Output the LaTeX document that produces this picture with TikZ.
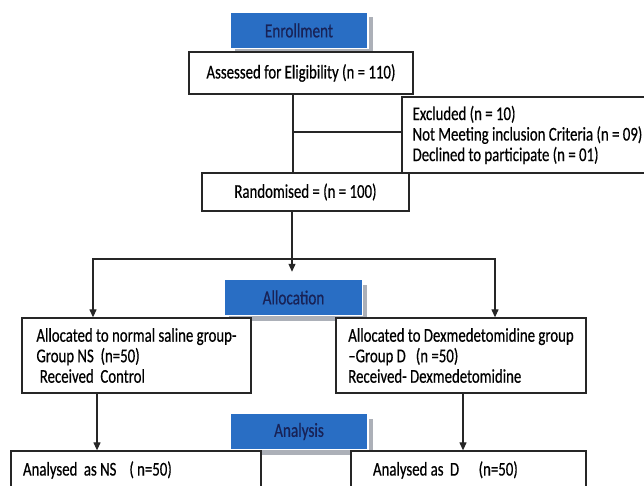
\documentclass[tikz,border=0pt]{standalone}
\usepackage{fontspec}
\setmainfont{Carlito}[FakeStretch=0.76, FakeBold=0.5]
\usetikzlibrary{arrows.meta, positioning, shadows}
\definecolor{headblue}{RGB}{41,110,196}
\definecolor{headtext}{RGB}{24,34,86}
\definecolor{shadowgray}{RGB}{172,176,184}
\definecolor{boxline}{RGB}{38,38,38}

\tikzset{
  headbox/.style={fill=headblue, draw=white, line width=1.5pt, text=headtext,
    minimum width=138pt, minimum height=36pt, inner sep=0pt,
    font=\fontsize{20}{22}\selectfont,
    drop shadow={shadow xshift=4.5pt, shadow yshift=-5pt, fill=shadowgray, opacity=1}},
  flowbox/.style={draw=boxline, fill=white, line width=1.3pt, inner sep=0pt,
    font=\fontsize{19.5}{20.5}\selectfont},
  link/.style={draw=boxline, line width=1.2pt},
  tip/.style={-{Triangle[length=8pt,width=7pt]}}
}

\begin{document}
\begin{tikzpicture}[x=1pt, y=-1pt]
    \clip (0,0) rectangle (644,486);
    \fill[white] (0,0) rectangle (644,486);

    % Enrollment
    \node[headbox] (enroll) at (299,30.5) {Enrollment};
    \node[flowbox, minimum width=224pt, minimum height=42pt] (assess) at (301,73) {Assessed for Eligibility (n = 110)};
    \node[flowbox, minimum width=251pt, minimum height=76pt, align=left] (excl) at (527.5,135)
        {Excluded (n = 10)\\Not Meeting inclusion Criteria (n = 09)\\Declined to participate (n = 01)};
    \node[flowbox, minimum width=207pt, minimum height=38pt] (rand) at (305.5,192) {Randomised = (n = 100)};

    % trunk to the excluded box
    \coordinate (trunk) at (293,132);
    \draw[link] (assess.south -| trunk) -- (rand.north -| trunk);
    \draw[link] (trunk) -- (trunk -| excl.west);

    % Allocation
    \node[headbox] (alloc) at (293.5,297.5) {Allocation};
    \node[flowbox, minimum width=229pt, minimum height=75pt, align=left] (grpNS) at (136.5,355.5)
        {Allocated to normal saline group-\\Group NS\ \ (n=50)\\\ Received\ \ Control};
    \node[flowbox, minimum width=250pt, minimum height=75pt, align=left] (grpD) at (461,355.5)
        {Allocated to Dexmedetomidine group\\--Group D\ \ \ (n =50)\\Received- Dexmedetomidine};

    \coordinate (split) at (292,259);
    \coordinate (leftend) at (93,259);
    \coordinate (rightend) at (495,259);
    \draw[link, tip] (rand.south -| split) -- ([yshift=7pt]alloc.north -| split);
    \draw[link, {Triangle[length=8pt,width=7pt]}-{Triangle[length=8pt,width=7pt]}]
        (grpNS.north -| leftend) |- (rightend) -- (grpD.north -| rightend);

    % Analysis
    \node[headbox] (analysis) at (299,431.5) {Analysis};
    \node[flowbox, minimum width=250pt, minimum height=38pt, text width=226pt, inner xsep=12pt, align=left] (anaNS) at (136,470)
        {Analysed\ as\,NS\ \ (\,n=50)};
    \node[flowbox, minimum width=235pt, minimum height=38pt, text width=191pt, inner xsep=22pt, align=left] (anaD) at (468.5,470)
        {Analysed\,as\ D\ \ \ (n=50)};

    \draw[link, tip] ([xshift=-39.5pt]grpNS.south) -- ([xshift=-39.5pt]grpNS.south |- anaNS.north);
    \draw[link, tip] ([xshift=2pt]grpD.south) -- ([xshift=2pt]grpD.south |- anaD.north);
\end{tikzpicture}
\end{document}
